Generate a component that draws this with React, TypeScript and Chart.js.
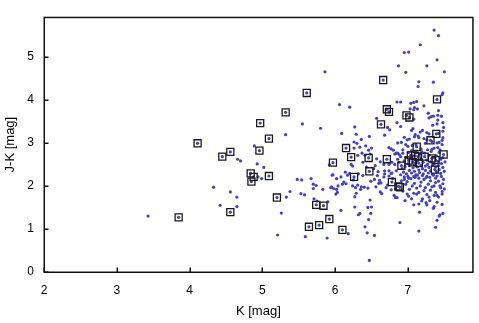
import { useEffect, useRef } from "react";
import { Chart, registerables } from "chart.js";

Chart.register(...registerables);

const xTickValues = [2, 3, 4, 5, 6, 7];
const yTickValues = [0, 1, 2, 3, 4, 5];
const xRange = [2, 7.89];
const yRange = [0, 5.92];
const xTitle = "K [mag]";
const yTitle = "J-K [mag]";

// all sources (K, J-K)
const sparseSources: [number, number][] = [
  [3.43, 1.3], [4.33, 1.97], [4.42, 1.55], [4.56, 1.86], [4.65, 1.74], [4.65, 1.52], [4.66, 2.62], [4.7, 2.58],
  [4.89, 2.93], [4.93, 2.51], [4.94, 2.21], [4.99, 2.17], [5.02, 2.43], [5.21, 0.86], [5.26, 1.37], [5.32, 3.19],
  [5.33, 1.74], [5.38, 1.87], [5.48, 2.15], [5.54, 2.14], [5.53, 1.82], [5.58, 1.79], [5.55, 3.44], [5.59, 0.82],
  [5.67, 2.17], [5.7, 2.04], [5.74, 2.01], [5.7, 1.94], [5.71, 1.7], [5.75, 1.65], [5.8, 3.34], [5.83, 1.92],
  [5.86, 4.65], [5.89, 0.79], [5.9, 1.63], [5.92, 2.49], [5.94, 1.96], [5.98, 1.94], [5.97, 2.26],
];

const midLowSources: [number, number][] = [
  [6.02, 2.17], [5.96, 2.25], [6.08, 2.21], [6.14, 2.32], [6.17, 2.25], [6.2, 2.29], [6.32, 2.28], [6.12, 2.09],
  [6.15, 2.05], [6.1, 2.04], [6.24, 2.0], [6.28, 1.96], [6.36, 1.98], [6.4, 1.97], [6.45, 1.95], [5.95, 1.98],
  [6.04, 2.0], [6.02, 1.92], [6.03, 1.85], [6.01, 1.81], [6.29, 1.83], [6.27, 1.75], [6.49, 2.11], [6.54, 2.15],
  [6.61, 2.13], [6.6, 2.06], [6.63, 2.07], [6.62, 1.86], [6.64, 1.82], [6.67, 2.21], [6.68, 2.28], [6.74, 2.23],
  [6.77, 2.29], [6.7, 1.96], [6.77, 1.91], [6.81, 1.78], [6.85, 1.73], [6.48, 1.67], [6.27, 1.51], [6.45, 1.5],
  [6.08, 1.43], [6.49, 1.36], [6.32, 1.33], [6.34, 1.36], [6.46, 1.22], [6.41, 1.05], [6.18, 0.89], [6.44, 0.91],
  [6.54, 0.85], [6.47, 0.27], [6.5, 1.51], [6.25, 2.14], [6.31, 2.02], [6.35, 1.92], [6.56, 1.98], [6.72, 2.02],
  [6.83, 1.93], [6.79, 2.17], [6.58, 2.24], [6.38, 2.24],
];

const midHighSources: [number, number][] = [
  [6.06, 3.89], [6.2, 3.83], [6.85, 3.95], [6.57, 3.57], [6.72, 3.36], [6.75, 3.3], [6.27, 3.37], [6.09, 3.22],
  [6.29, 3.2], [6.47, 3.15], [6.68, 3.18], [6.36, 3.08], [6.26, 3.02], [6.3, 2.99], [6.26, 2.88], [6.34, 2.9],
  [6.42, 2.93], [6.5, 2.88], [6.46, 2.83], [6.74, 2.89], [6.77, 2.86], [6.8, 2.83], [6.82, 2.74], [6.86, 2.76],
  [6.37, 2.76], [6.31, 2.71], [6.41, 2.71], [6.48, 2.74], [6.57, 2.63], [6.67, 2.5], [6.74, 2.5], [6.78, 2.55],
  [6.82, 2.5], [6.22, 2.5], [6.24, 2.46], [6.53, 2.4], [6.59, 2.33], [6.68, 2.35], [6.74, 2.35], [6.78, 2.3],
  [6.84, 2.35], [6.62, 2.56], [6.55, 2.47], [6.38, 2.55], [6.43, 2.44],
];

const brightRedSources: [number, number][] = [
  [7.36, 5.62], [7.42, 5.49], [7.17, 5.28], [6.95, 5.1], [7.01, 5.11], [7.4, 4.93], [6.87, 4.79], [7.26, 4.79],
  [6.97, 4.64], [7.5, 4.65], [7.15, 4.42], [7.35, 4.41], [7.14, 4.31], [7.48, 4.16], [7.47, 4.12], [6.9, 3.95],
  [7.04, 3.92], [7.08, 3.94], [7.12, 3.96], [7.22, 3.86], [7.08, 3.77], [7.13, 3.79], [7.42, 3.75], [7.28, 3.69],
  [7.41, 3.64], [7.32, 3.61], [7.29, 3.58], [6.85, 3.47], [6.9, 3.38], [7.4, 3.44], [7.48, 3.47], [7.49, 3.36],
  [7.34, 3.41], [7.05, 3.29], [7.2, 3.29], [7.26, 3.24], [7.29, 3.21], [7.48, 3.12], [7.1, 3.19], [7.14, 3.16],
  [7.09, 3.14], [7.15, 3.12], [6.95, 3.13], [7.02, 3.09], [7.43, 3.01], [7.47, 2.96], [6.97, 2.96], [7.0, 2.92],
  [7.06, 2.94], [7.11, 2.96], [7.24, 2.99], [7.18, 2.86], [6.84, 2.76], [6.88, 2.73], [6.93, 2.76], [7.03, 3.79],
  [7.09, 3.82], [7.35, 3.62], [7.08, 3.55], [7.07, 3.33], [7.17, 3.25], [7.22, 3.1], [7.42, 3.22], [7.48, 3.27],
  [7.46, 3.62], [7.41, 3.53], [6.99, 3.07], [6.91, 3.01], [6.86, 3.0], [7.26, 3.07], [7.33, 3.03], [7.4, 3.0],
  [7.47, 3.06], [7.41, 2.89], [7.33, 2.85],
];

const coreSources: [number, number][] = [
  [6.86, 2.62], [6.88, 2.55], [6.9, 2.68], [6.92, 2.4], [6.94, 2.32], [6.95, 2.58], [6.97, 2.66], [6.96, 2.45],
  [6.98, 2.28], [7.0, 2.52], [7.01, 2.78], [7.02, 2.36], [7.02, 2.47], [7.04, 2.64], [7.05, 2.3], [7.05, 2.82],
  [7.07, 2.42], [7.08, 2.62], [7.09, 2.34], [7.09, 2.49], [7.11, 2.26], [7.11, 2.79], [7.13, 2.44], [7.13, 2.58],
  [7.15, 2.37], [7.16, 2.74], [7.16, 2.31], [7.18, 2.48], [7.18, 2.63], [7.2, 2.4], [7.21, 2.55], [7.21, 2.28],
  [7.23, 2.76], [7.24, 2.46], [7.24, 2.36], [7.26, 2.6], [7.27, 2.5], [7.28, 2.3], [7.29, 2.71], [7.29, 2.43],
  [7.31, 2.56], [7.31, 2.35], [7.32, 2.8], [7.34, 2.48], [7.34, 2.27], [7.36, 2.66], [7.36, 2.52], [7.38, 2.44],
  [7.39, 2.7], [7.39, 2.33], [7.41, 2.57], [7.42, 2.47], [7.43, 2.78], [7.43, 2.38], [7.45, 2.62], [7.45, 2.29],
  [7.46, 2.52], [7.48, 2.43], [7.48, 2.66], [7.5, 2.34], [7.51, 2.56], [7.44, 2.84], [7.36, 2.88], [7.27, 2.84],
  [7.19, 2.8], [7.06, 2.7], [6.93, 2.84], [7.4, 2.23], [7.3, 2.2], [7.2, 2.24], [7.1, 2.2], [7.0, 2.22],
  [6.9, 2.26], [7.46, 2.22], [7.35, 2.25], [7.25, 2.19], [7.13, 2.25], [7.04, 2.17], [6.95, 2.21], [7.48, 2.05],
  [7.38, 2.08], [7.28, 2.04], [7.18, 2.09], [7.09, 2.06], [6.99, 2.1], [6.91, 2.12], [7.44, 2.0], [7.33, 1.98],
  [7.12, 1.95], [7.02, 1.92], [6.93, 1.88], [7.5, 1.93], [7.05, 1.7], [6.96, 1.66], [7.3, 1.66], [7.4, 1.62],
  [7.2, 1.7], [6.95, 2.15], [7.01, 2.18], [7.08, 2.22], [7.15, 2.18], [7.22, 2.15], [7.26, 2.22], [7.31, 2.12],
  [7.38, 2.18], [7.42, 2.11], [7.49, 2.15], [6.97, 2.04], [7.06, 2.0], [7.17, 2.0], [7.24, 1.96], [7.36, 2.0],
  [7.45, 1.96], [7.47, 1.87], [7.38, 1.85], [7.31, 1.9], [7.22, 1.89], [7.15, 1.85], [7.4, 1.78], [7.26, 1.8],
  [7.36, 1.78], [7.42, 1.74], [7.29, 1.74], [7.47, 1.81],
];

const faintTailSources: [number, number][] = [
  [6.83, 1.73], [6.99, 1.81], [7.01, 1.76], [7.08, 1.83], [7.12, 1.81], [7.08, 1.56], [7.15, 1.58], [7.19, 1.65],
  [7.25, 1.61], [7.26, 1.56], [7.16, 1.39], [7.35, 1.48], [7.47, 1.57], [7.44, 1.33], [7.48, 1.36], [7.43, 1.3],
  [7.4, 1.2], [6.89, 1.15], [7.38, 1.04], [7.15, 0.95], [7.36, 1.52],
];

// sources marked with a square
const markedSources: [number, number][] = [
  [3.85, 1.27], [4.11, 2.99], [4.45, 2.68], [4.56, 2.79], [4.56, 1.39], [4.84, 2.29], [4.88, 2.21], [4.85, 2.1],
  [4.97, 3.46], [5.09, 3.1], [4.96, 2.82], [5.09, 2.23], [5.32, 3.71], [5.61, 4.16], [5.2, 1.73], [5.74, 1.56],
  [5.84, 1.54], [5.92, 1.23], [5.78, 1.09], [5.64, 1.05], [5.97, 2.54], [6.1, 0.98], [6.15, 2.88], [6.22, 2.67],
  [6.26, 2.21], [6.46, 2.65], [6.47, 2.34], [6.66, 4.46], [6.71, 3.78], [6.74, 3.72], [6.63, 3.43], [6.71, 2.62],
  [6.78, 2.09], [6.87, 1.99], [6.89, 1.97], [6.91, 2.47], [6.98, 3.64], [7.02, 3.59], [7.4, 4.01], [7.39, 3.21],
  [7.31, 3.06], [7.12, 2.91], [7.49, 2.73], [7.04, 2.71], [7.1, 2.7], [7.14, 2.68], [7.23, 2.68], [7.33, 2.64],
  [7.38, 2.6], [7.01, 2.59], [7.07, 2.55], [7.15, 2.53], [7.37, 2.38],
];

const FONT = "'Liberation Sans', Arial, Helvetica, sans-serif";

const toXY = (arr: [number, number][]) => arr.map(([x, y]) => ({ x, y }));

const framePlugin = {
  id: "gnuFrame",
  afterDatasetsDraw(chart: any) {
    const { ctx, chartArea: a, scales } = chart;
    ctx.save();
    ctx.strokeStyle = "#111";
    ctx.lineWidth = 1.5;
    ctx.beginPath();
    for (const t of scales.x.ticks) {
      const px = Math.round(scales.x.getPixelForValue(t.value)) + 0.25;
      ctx.moveTo(px, a.bottom);
      ctx.lineTo(px, a.bottom - 4.5);
    }
    for (const t of scales.y.ticks) {
      const py = Math.round(scales.y.getPixelForValue(t.value)) + 0.25;
      ctx.moveTo(a.left, py);
      ctx.lineTo(a.left + 4.5, py);
    }
    ctx.stroke();
    ctx.strokeRect(a.left + 0.25, a.top + 0.25, a.right - a.left, a.bottom - a.top);
    ctx.restore();
  },
};

export default function App() {
  const ref = useRef<HTMLCanvasElement | null>(null);

  useEffect(() => {
    if (!ref.current) return;
    const allSources = [
      ...sparseSources,
      ...midLowSources,
      ...midHighSources,
      ...brightRedSources,
      ...coreSources,
      ...faintTailSources,
      ...markedSources,
    ];
    const chart = new Chart(ref.current, {
      type: "scatter",
      data: {
        datasets: [
          {
            label: "marked",
            data: toXY(markedSources),
            pointStyle: "rect",
            pointRadius: 5,
            borderColor: "#1a1a1a",
            borderWidth: 1.3,
            backgroundColor: "rgba(0,0,0,0)",
          },
          {
            label: "all",
            data: toXY(allSources),
            pointStyle: "circle",
            pointRadius: 1.6,
            borderWidth: 0,
            backgroundColor: "#4242c2",
          },
        ],
      },
      plugins: [framePlugin],
      options: {
        animation: false,
        responsive: false,
        devicePixelRatio: 1,
        layout: { padding: { top: 5, right: 5, left: 0, bottom: 0 } },
        plugins: { legend: { display: false }, tooltip: { enabled: false } },
        scales: {
          x: {
            type: "linear",
            min: xRange[0],
            max: xRange[1],
            afterBuildTicks: (s: any) => {
              s.ticks = xTickValues.map((v) => ({ value: v }));
            },
            afterFit: (s: any) => {
              s.height = 51;
            },
            grid: { display: false, drawTicks: false },
            border: { display: false },
            ticks: {
              color: "#000",
              font: { family: FONT, size: 12 },
              padding: 11,
              maxRotation: 0,
              autoSkip: false,
            },
            title: {
              display: true,
              text: xTitle,
              color: "#000",
              font: { family: FONT, size: 13 },
              padding: { top: 0, bottom: 4 },
            },
          },
          y: {
            type: "linear",
            min: yRange[0],
            max: yRange[1],
            afterBuildTicks: (s: any) => {
              s.ticks = yTickValues.map((v) => ({ value: v }));
            },
            afterFit: (s: any) => {
              s.width = 44;
            },
            grid: { display: false, drawTicks: false },
            border: { display: false },
            ticks: {
              color: "#000",
              font: { family: FONT, size: 12 },
              padding: 10,
              autoSkip: false,
            },
            title: {
              display: true,
              text: yTitle,
              color: "#000",
              font: { family: FONT, size: 13 },
              padding: { top: 3, bottom: 0 },
            },
          },
        },
      },
    });
    return () => chart.destroy();
  }, []);

  return (
    <div style={{ position: "fixed", left: 0, top: 0, width: 479, height: 323, background: "#fff" }}>
      <canvas ref={ref} width={479} height={323} style={{ width: 479, height: 323, display: "block" }} />
    </div>
  );
}
